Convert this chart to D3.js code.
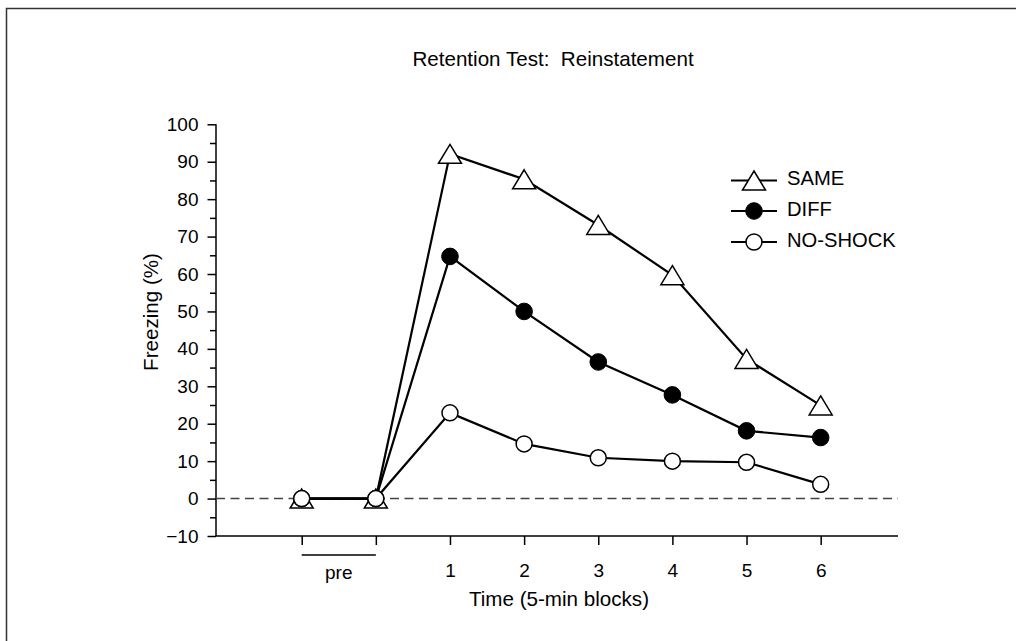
<!DOCTYPE html>
<html><head><meta charset="utf-8">
<script src="https://cdn.jsdelivr.net/npm/d3@7"></script>
<style>
html,body{margin:0;padding:0;background:#fff;}
svg{display:block;font-family:"Liberation Sans",Arial,Helvetica,sans-serif;}
text{white-space:pre;}
</style></head>
<body>
<script>
const categories = ["", "", "1", "2", "3", "4", "5", "6"];
const sameValues = [0, 0, 92.1, 85.3, 73.1, 59.7, 37.3, 24.9];
const diffValues = [0, 0, 64.7, 50.0, 36.5, 27.7, 18.1, 16.3];
const noShockValues = [0, 0, 22.9, 14.6, 10.9, 10.0, 9.7, 3.8];
const yTicks = [-10, 0, 10, 20, 30, 40, 50, 60, 70, 80, 90, 100];
const yMinorTicks = [-5, 5, 15, 25, 35, 45, 55, 65, 75, 85, 95];
const seriesNames = ["SAME", "DIFF", "NO-SHOCK"];
const titleText = "Retention Test:  Reinstatement";
const xTitle = "Time (5-min blocks)";
const yTitle = "Freezing (%)";
const preLabel = "pre";

const W = 1016, H = 641;
const svg = d3.select("body").append("svg").attr("width", W).attr("height", H);

// frame
svg.append("path").attr("d", `M6.5,${H} V8.5 H${W}`).attr("fill","none").attr("stroke","#333").attr("stroke-width",1.5);

const xi = i => 301.7 + (i) * 74.14;
const xs = d3.scaleLinear().domain([0, 7]).range([xi(0), xi(7)]);
const y = d3.scaleLinear().domain([-10, 100]).range([536, 124.3]);

const tickFont = 19;
const labelFont = 20.6;
const legendFont = 20.2;

// y axis
const yAxis = d3.axisLeft(y).tickValues(yTicks).tickSize(8.5).tickPadding(9)
  .tickFormat(d => d < 0 ? "\u2212" + Math.abs(d) : d);
const gy = svg.append("g").attr("transform", "translate(216,0)").call(yAxis);
gy.select(".domain").attr("d", `M0,${y(100)}V${y(-10)}`).attr("stroke","#000").attr("stroke-width",1.5);
gy.selectAll(".tick line").attr("stroke","#000").attr("stroke-width",1.5);
gy.selectAll(".tick text").attr("font-size", tickFont).attr("fill","#000").attr("font-family","Liberation Sans, Arial, sans-serif");
const yMinor = d3.axisLeft(y).tickValues(yMinorTicks).tickSize(6).tickFormat("");
const gym = svg.append("g").attr("transform", "translate(216,0)").call(yMinor);
gym.select(".domain").remove();
gym.selectAll(".tick line").attr("stroke","#000").attr("stroke-width",1.5);

// x axis
const xAxis = d3.axisBottom(xs).tickValues(d3.range(8)).tickSize(9).tickPadding(19)
  .tickFormat(i => categories[i]);
const gx = svg.append("g").attr("transform", "translate(0,536)").call(xAxis);
gx.select(".domain").attr("d", `M216,0H898`).attr("stroke","#000").attr("stroke-width",1.5);
gx.selectAll(".tick line").attr("stroke","#000").attr("stroke-width",1.5);
gx.selectAll(".tick text").attr("font-size", tickFont).attr("fill","#000").attr("font-family","Liberation Sans, Arial, sans-serif");

// pre bracket
svg.append("line").attr("x1", xs(0)).attr("x2", xs(1)).attr("y1", 555).attr("y2", 555)
  .attr("stroke","#000").attr("stroke-width",1.5);
svg.append("text").attr("x", (xs(0)+xs(1))/2).attr("y", 578.5).attr("text-anchor","middle")
  .attr("font-size", tickFont).text(preLabel);

// zero dashed line
svg.append("line").attr("x1", 216).attr("x2", 898).attr("y1", y(0)).attr("y2", y(0))
  .attr("stroke","#444").attr("stroke-width",1.5).attr("stroke-dasharray","9,5.5");

// titles
svg.append("text").attr("x", 553).attr("y", 66).attr("text-anchor","middle").attr("font-size", labelFont).text(titleText);
svg.append("text").attr("x", 559).attr("y", 606).attr("text-anchor","middle").attr("font-size", labelFont).text(xTitle);
svg.append("text").attr("transform", `translate(158,312) rotate(-90)`).attr("text-anchor","middle").attr("font-size", labelFont).text(yTitle);

// lines
const line = d3.line().x((d,i) => xs(i)).y(d => y(d));
const allSeries = [sameValues, diffValues, noShockValues];
allSeries.forEach(s => {
  svg.append("path").attr("d", line(s)).attr("fill","none").attr("stroke","#000").attr("stroke-width",2.2);
});

const triPath = "M0,-9.5L11.5,9.5L-11.5,9.5Z";
function drawMarker(g, type, cx, cy) {
  if (type === 0) {
    g.append("path").attr("d", triPath).attr("transform", `translate(${cx},${cy})`)
      .attr("fill","#fff").attr("stroke","#000").attr("stroke-width",1.5).attr("stroke-linejoin","miter");
  } else if (type === 1) {
    g.append("circle").attr("cx", cx).attr("cy", cy).attr("r", 8.3).attr("fill","#000").attr("stroke","#000").attr("stroke-width",1);
  } else {
    g.append("circle").attr("cx", cx).attr("cy", cy).attr("r", 8).attr("fill","#fff").attr("stroke","#000").attr("stroke-width",1.5);
  }
}
const mg = svg.append("g");
allSeries.forEach((s, k) => {
  s.forEach((v, i) => drawMarker(mg, k, xs(i), y(v)));
});

// legend
const legY = [180.5, 211, 242];
const legBase = [184.5, 215.5, 246.5];
seriesNames.forEach((n, k) => {
  svg.append("line").attr("x1", 731).attr("x2", 777).attr("y1", legY[k]).attr("y2", legY[k]).attr("stroke","#000").attr("stroke-width",2.2);
  drawMarker(svg, k, 754, legY[k]);
  svg.append("text").attr("x", 787).attr("y", legBase[k]).attr("font-size", legendFont).text(n);
});
</script>
</body></html>
